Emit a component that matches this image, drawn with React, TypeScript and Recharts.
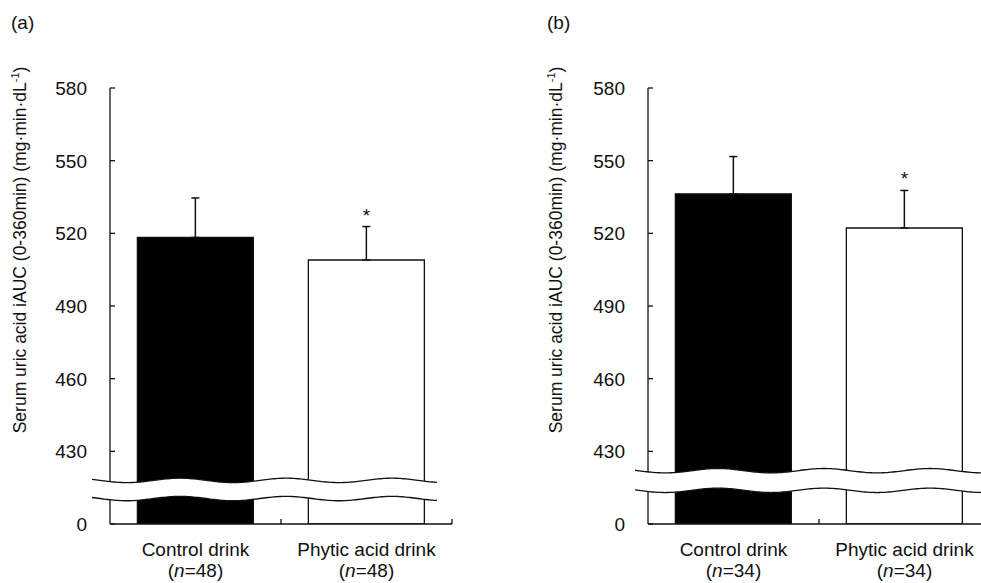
import React from "react";
import { BarChart, Bar, XAxis, YAxis, ErrorBar, ReferenceArea, ReferenceDot, Cell } from "recharts";

// ---------- data ----------
const categories = ["Control drink", "Phytic acid drink"];
const sampleSizesA = [48, 48];
const sampleSizesB = [34, 34];
const meansA = [518.3, 509.0];
const semA = [16.3, 13.8];
const meansB = [536.3, 522.2];
const semB = [15.4, 15.5];
const significance = ["", "*"];
const yTickValues = [400, 430, 460, 490, 520, 550, 580];
const yTickLabels = ["0", "430", "460", "490", "520", "550", "580"];
const yDomain = [400, 580];
const breakA = [410.5, 418.0];
const breakB = [413.9, 422.0];
const panelLabels = ["(a)", "(b)"];
const yAxisTitleMain = "Serum uric acid iAUC (0-360min) (mg·min·dL";
const yAxisTitleSup = "-1";

// ---------- styles ----------
const FONT = "'Liberation Sans', Arial, Helvetica, sans-serif";
const INK = "#111";
const barFills = ["#000000", "#ffffff"];
const CHART_W = 490;
const CHART_H = 583;
const Y_AXIS_W = 110;

const XTick = (props: any) => {
  const { x, y, payload, ns, half } = props;
  const idx = payload.index;
  return (
    <g>
      <text x={x} y={y + 31.5} textAnchor="middle" fontSize={19} fontFamily={FONT} fill={INK}>
        {payload.value}
      </text>
      <text x={x} y={y + 52.5} textAnchor="middle" fontSize={19} fontFamily={FONT} fill={INK}>
        (<tspan fontStyle="italic">n</tspan>={ns[idx]})
      </text>
      <line x1={x + half} x2={x + half} y1={y} y2={y - 5} stroke={INK} strokeWidth={1.3} />
    </g>
  );
};

const YTick = (props: any) => {
  const { x, y, payload } = props;
  const label = yTickLabels[yTickValues.indexOf(payload.value)];
  return (
    <text x={x} y={y + 7} textAnchor="end" fontSize={19} fontFamily={FONT} fill={INK}>
      {label}
    </text>
  );
};

const YTitle = (props: any) => {
  const { cx, cy } = props;
  return (
    <text
      x={cx}
      y={cy}
      transform={`rotate(-90, ${cx}, ${cy})`}
      textAnchor="middle"
      fontSize={17.5}
      fontFamily={FONT}
      fill={INK}
    >
      {yAxisTitleMain}
      <tspan fontSize={11} dy={-7}>{yAxisTitleSup}</tspan>
      <tspan dy={7}>)</tspan>
    </text>
  );
};

const wavePath = (x0: number, x1: number, yBase: number, crestX: number, period: number, amp: number, reverse = false) => {
  const pts: string[] = [];
  const step = 2;
  const xs: number[] = [];
  for (let x = x0; x <= x1; x += step) xs.push(x);
  if (xs[xs.length - 1] !== x1) xs.push(x1);
  if (reverse) xs.reverse();
  xs.forEach((x) => {
    const y = yBase - amp * Math.cos((2 * Math.PI * (x - crestX)) / period);
    pts.push(`${x.toFixed(2)},${y.toFixed(2)}`);
  });
  return pts;
};

const BreakShape = (props: any) => {
  const { x, y, width, height, extLeft, extRight } = props;
  const x0 = x - extLeft;
  const x1 = x + width + extRight;
  const crestX = x + 70;
  const period = 106;
  const amp = 2.2;
  const top = wavePath(x0, x1, y, crestX, period, amp);
  const bottom = wavePath(x0, x1, y + height, crestX, period, amp);
  const bottomRev = wavePath(x0, x1, y + height, crestX, period, amp, true);
  return (
    <g>
      <path d={`M${top.join(" L")} L${bottomRev.join(" L")} Z`} fill="#fff" stroke="none" />
      <path d={`M${top.join(" L")}`} fill="none" stroke={INK} strokeWidth={1.3} />
      <path d={`M${bottom.join(" L")}`} fill="none" stroke={INK} strokeWidth={1.3} />
    </g>
  );
};

const AsteriskShape = (props: any) => {
  const { cx, cy } = props;
  return (
    <text x={cx} y={cy - 5} textAnchor="middle" fontSize={19} fontFamily={FONT} fill={INK}>
      *
    </text>
  );
};

type PanelProps = {
  left: number;
  means: number[];
  sem: number[];
  ns: number[];
  brk: number[];
  titleX: number;
  marginLeft: number;
  marginRight: number;
  extLeft: number;
  extRight: number;
};

const Panel = ({ left, means, sem, ns, brk, titleX, marginLeft, marginRight, extLeft, extRight }: PanelProps) => {
  const data = categories.map((name, i) => ({
    name,
    mean: means[i],
    err: [0, sem[i]],
    sig: significance[i],
  }));
  const plotW = CHART_W - marginLeft - marginRight - Y_AXIS_W;
  const half = plotW / categories.length / 2;
  return (
    <div style={{ position: "absolute", left, top: 0 }}>
      <BarChart
        width={CHART_W}
        height={CHART_H}
        data={data}
        margin={{ top: 88, right: marginRight, bottom: 0, left: marginLeft }}
        barCategoryGap="16%"
      >
        <XAxis
          dataKey="name"
          height={59}
          interval={0}
          tickLine={false}
          tickSize={0}
          tickMargin={0}
          axisLine={{ stroke: INK, strokeWidth: 1.3 }}
          tick={<XTick ns={ns} half={half} />}
        />
        <YAxis
          type="number"
          width={Y_AXIS_W}
          domain={yDomain}
          allowDataOverflow
          ticks={yTickValues}
          interval={0}
          tickSize={-5}
          tickMargin={28}
          axisLine={{ stroke: INK, strokeWidth: 1.3 }}
          tickLine={{ stroke: INK, strokeWidth: 1.3 }}
          tick={<YTick />}
          label={<YTitle cx={titleX} cy={250} />}
        />
        <Bar dataKey="mean" isAnimationActive={false} stroke={INK} strokeWidth={1.3}>
          {data.map((d, i) => (
            <Cell key={d.name} fill={barFills[i]} />
          ))}
          <ErrorBar dataKey="err" direction="y" width={4} stroke={INK} strokeWidth={1.5} isAnimationActive={false} />
        </Bar>
        {data
          .filter((d) => d.sig)
          .map((d) => (
            <ReferenceDot
              key={d.name}
              x={d.name}
              y={d.mean + d.err[1]}
              r={0}
              ifOverflow="visible"
              shape={AsteriskShape}
            />
          ))}
        <ReferenceArea
          y1={brk[0]}
          y2={brk[1]}
          ifOverflow="visible"
          zIndex={2500}
          shape={(p: any) => <BreakShape {...p} extLeft={extLeft} extRight={extRight} />}
        />
      </BarChart>
    </div>
  );
};

export default function App() {
  return (
    <div
      style={{
        position: "absolute",
        left: 0,
        top: 0,
        width: 981,
        height: 583,
        overflow: "hidden",
        background: "#fff",
        fontFamily: FONT,
      }}
    >
      <Panel
        left={0}
        means={meansA}
        sem={semA}
        ns={sampleSizesA}
        brk={breakA}
        titleX={26}
        marginLeft={0}
        marginRight={38}
        extLeft={18}
        extRight={-15}
      />
      <Panel
        left={500}
        means={meansB}
        sem={semB}
        ns={sampleSizesB}
        brk={breakB}
        titleX={62}
        marginLeft={38}
        marginRight={0}
        extLeft={13}
        extRight={10}
      />
      <div style={{ position: "absolute", left: 11, top: 13, fontSize: 19, lineHeight: "19px", color: INK }}>
        {panelLabels[0]}
      </div>
      <div style={{ position: "absolute", left: 547, top: 13, fontSize: 19, lineHeight: "19px", color: INK }}>
        {panelLabels[1]}
      </div>
    </div>
  );
}
